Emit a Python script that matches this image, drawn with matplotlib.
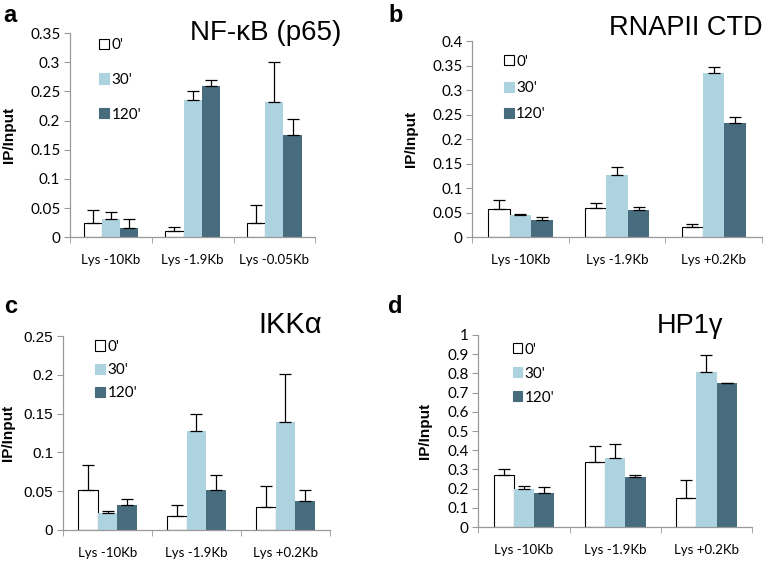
import matplotlib
matplotlib.use("Agg")
import matplotlib.pyplot as plt
import numpy as np
from matplotlib.patches import Patch

# ---------------- data ----------------
series_labels = ["0'", "30'", "120'"]

cats_a = ["Lys -10Kb", "Lys -1.9Kb", "Lys -0.05Kb"]
cats_bcd = ["Lys -10Kb", "Lys -1.9Kb", "Lys +0.2Kb"]

# panel a: NF-kB (p65)
a_vals = [[0.024, 0.010, 0.024],
          [0.032, 0.235, 0.232],
          [0.016, 0.259, 0.176]]
a_errs = [[0.023, 0.007, 0.031],
          [0.011, 0.015, 0.068],
          [0.015, 0.011, 0.027]]

# panel b: RNAPII CTD
b_vals = [[0.057, 0.059, 0.020],
          [0.046, 0.127, 0.334],
          [0.034, 0.055, 0.233]]
b_errs = [[0.019, 0.010, 0.006],
          [0.001, 0.017, 0.014],
          [0.008, 0.006, 0.012]]

# panel c: IKKalpha
c_vals = [[0.051, 0.018, 0.030],
          [0.022, 0.128, 0.139],
          [0.032, 0.052, 0.037]]
c_errs = [[0.033, 0.014, 0.027],
          [0.002, 0.021, 0.062],
          [0.008, 0.019, 0.015]]

# panel d: HP1gamma
d_vals = [[0.272, 0.340, 0.151],
          [0.198, 0.359, 0.809],
          [0.177, 0.260, 0.749]]
d_errs = [[0.033, 0.081, 0.092],
          [0.017, 0.073, 0.087],
          [0.033, 0.009, 0.003]]

a_ticks = [0, 0.05, 0.1, 0.15, 0.2, 0.25, 0.3, 0.35]
a_ticklabels = ["0", "0.05", "0.1", "0.15", "0.2", "0.25", "0.3", "0.35"]
b_ticks = [0, 0.05, 0.1, 0.15, 0.2, 0.25, 0.3, 0.35, 0.4]
b_ticklabels = ["0", "0.05", "0.1", "0.15", "0.2", "0.25", "0.3", "0.35", "0.4"]
c_ticks = [0, 0.05, 0.1, 0.15, 0.2, 0.25]
c_ticklabels = ["0", "0.05", "0.1", "0.15", "0.2", "0.25"]
d_ticks = [0, 0.1, 0.2, 0.3, 0.4, 0.5, 0.6, 0.7, 0.8, 0.9, 1]
d_ticklabels = ["0", "0.1", "0.2", "0.3", "0.4", "0.5", "0.6", "0.7", "0.8", "0.9", "1"]

titles = ["NF-\u03baB (p65)", "RNAPII CTD", "IKK\u03b1", "HP1\u03b3"]
letters = ["a", "b", "c", "d"]

# ---------------- style ----------------
colors = ["white", "#aed3e0", "#476c7d"]
edgecolors = ["black", "none", "none"]
tick_font = "Lato"
title_font = "Liberation Sans"

fig = plt.figure(figsize=(7.69, 5.62), dpi=100)

panels = [
    dict(rect=[0.091, 0.578, 0.319, 0.363], cats=cats_a, vals=a_vals, errs=a_errs,
         ticks=a_ticks, tl=a_ticklabels, ylim=0.35, leg=(0.12, 0.975), ls=1.35,
         ylab=-0.22, tfont=tick_font),
    dict(rect=[0.614, 0.578, 0.377, 0.349], cats=cats_bcd, vals=b_vals, errs=b_errs,
         ticks=b_ticks, tl=b_ticklabels, ylim=0.4, leg=(0.11, 0.93), ls=0.8,
         ylab=-0.186, tfont=tick_font),
    dict(rect=[0.082, 0.057, 0.347, 0.345], cats=cats_bcd, vals=c_vals, errs=c_errs,
         ticks=c_ticks, tl=c_ticklabels, ylim=0.25, leg=(0.12, 0.98), ls=0.6,
         ylab=-0.18, tfont=title_font),
    dict(rect=[0.622, 0.062, 0.356, 0.342], cats=cats_bcd, vals=d_vals, errs=d_errs,
         ticks=d_ticks, tl=d_ticklabels, ylim=1.0, leg=(0.125, 0.96), ls=0.65,
         ylab=-0.17, tfont=tick_font),
]

width = 0.222
for p in panels:
    ax = fig.add_axes(p["rect"])
    x = np.arange(len(p["cats"]))
    for i in range(3):
        ax.bar(x + (i - 1) * width, p["vals"][i], width, color=colors[i],
               edgecolor=edgecolors[i], linewidth=0.8, zorder=2)
        ax.errorbar(x + (i - 1) * width, p["vals"][i],
                    yerr=[np.zeros(3), p["errs"][i]], fmt="none",
                    ecolor="black", elinewidth=0.9, capsize=4, capthick=0.9, zorder=3)
    ax.set_xlim(-0.5, 2.5)
    ax.set_ylim(0, p["ylim"])
    ax.set_yticks(p["ticks"])
    ax.set_yticklabels(p["tl"], fontsize=11, family=p["tfont"])
    ax.set_xticks(x)
    ax.set_xticklabels(p["cats"], fontsize=9.5, family=tick_font)
    ax.set_xticks([-0.5, 0.5, 1.5, 2.5], minor=True)
    ax.tick_params(axis="x", which="major", length=0, pad=12)
    ax.tick_params(axis="x", which="minor", length=4, color="#999999")
    ax.tick_params(axis="y", length=4, color="#999999", pad=3)
    for s in ["top", "right"]:
        ax.spines[s].set_visible(False)
    for s in ["left", "bottom"]:
        ax.spines[s].set_color("#999999")
        ax.spines[s].set_linewidth(0.9)
    ax.set_ylabel("IP/Input", fontsize=11, fontweight="bold", family="Liberation Sans")
    ax.yaxis.set_label_coords(p["ylab"], 0.5)
    handles = [Patch(facecolor=colors[i], edgecolor=("black" if i == 0 else colors[i]),
                     linewidth=0.8) for i in range(3)]
    ax.legend(handles, series_labels, loc="upper left", bbox_to_anchor=p["leg"],
              frameon=False, prop={"family": tick_font, "size": 11},
              handlelength=0.65, handleheight=0.65, handletextpad=0.15,
              labelspacing=p["ls"], borderpad=0, borderaxespad=0)

# titles and panel letters
title_specs = [(0.345, 0.929, 20), (0.892, 0.938, 19.5), (0.377, 0.4075, 21), (0.897, 0.4075, 19.5)]
for t, (tx, ty, fs) in zip(titles, title_specs):
    fig.text(tx, ty, t, fontsize=fs, family=title_font, ha="center", va="baseline")

letter_pos = [(0.004, 0.961), (0.505, 0.961), (0.005, 0.443), (0.505, 0.443)]
for l, (lx, ly) in zip(letters, letter_pos):
    fig.text(lx, ly, l, fontsize=17, fontweight="bold", family=title_font,
             ha="left", va="baseline")

fig.savefig("out.png", dpi=100)
